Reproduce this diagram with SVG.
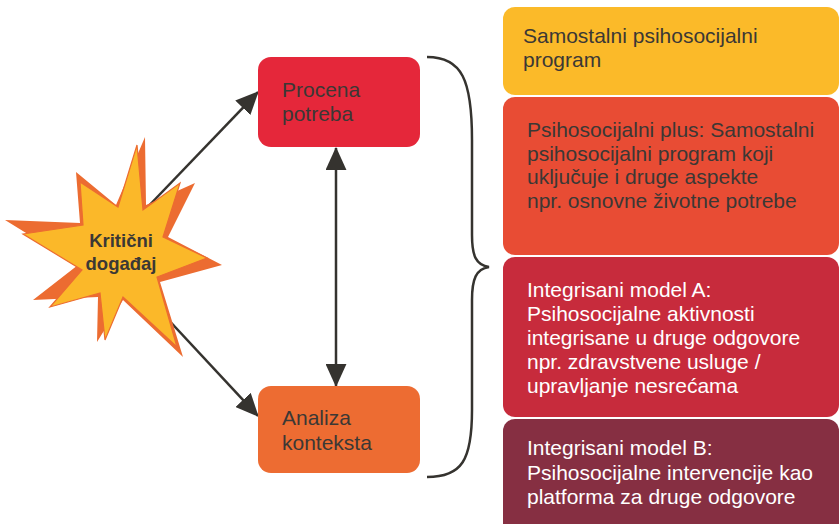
<svg xmlns="http://www.w3.org/2000/svg" width="840" height="524" viewBox="0 0 840 524">
<defs>
<style>
.t{font-family:"Liberation Sans",Arial,sans-serif;font-size:21px;fill:#3b3835}
.w{font-family:"Liberation Sans",Arial,sans-serif;font-size:21px;fill:#ffffff}
.b{font-family:"Liberation Sans",Arial,sans-serif;font-size:18.5px;font-weight:bold;fill:#3b3835;text-anchor:middle}
.ln{stroke:#35332f;stroke-width:2.5;fill:none}
</style>
<marker id="ah" viewBox="0 0 22 20" refX="21" refY="10" markerWidth="23" markerHeight="21" markerUnits="userSpaceOnUse" orient="auto-start-reverse">
<path d="M0,0 L22,10 L0,20 Z" fill="#35332f"/>
</marker>
</defs>
<g id="connectors">
<line class="ln" x1="140" y1="215" x2="258" y2="92" marker-end="url(#ah)"/>
<line class="ln" x1="150" y1="300" x2="258" y2="416" marker-end="url(#ah)"/>
<line class="ln" x1="336" y1="148" x2="336" y2="386" marker-start="url(#ah)" marker-end="url(#ah)"/>
<path class="ln" d="M427,57 C462,57 472,80 472,140 L472,235 C472,256 476,265 489,267 C476,269 472,279 472,300 L472,410 C472,460 462,477 427,477"/>
</g>
<g id="star">
<polygon fill="#ec6c31" points="145,137 146,205 195,183 168,237 222,265 160,282 183,357 123,300 97,342 98,297 33,300 78,265 5,220 80,223 76,172 116,205"/>
<polygon fill="#fbb829" stroke="#ec6c31" stroke-width="1.2" points="137,145 143,210 180,183 163,237 207,258 157,277 177,347 123,297 105,340 100,293 50,307 82,270 23,234 83,225 80,182 118,207"/>
<text class="b" x="121" y="247">Kritični</text>
<text class="b" x="121" y="270">događaj</text>
</g>
<g id="procena">
<rect x="258" y="57" width="162" height="90" rx="13" fill="#e5273a"/>
<text class="t" x="282" y="97">Procena</text>
<text class="t" x="282" y="121">potreba</text>
</g>
<g id="analiza">
<rect x="258" y="386" width="162" height="87" rx="13" fill="#ed6c32"/>
<text class="t" x="282" y="425">Analiza</text>
<text class="t" x="282" y="450">konteksta</text>
</g>
<g id="samostalni">
<rect x="503" y="7" width="336" height="88" rx="12" fill="#fbba29"/>
<text class="t" x="523" y="43">Samostalni psihosocijalni</text>
<text class="t" x="523" y="67">program</text>
</g>
<g id="plus">
<rect x="503" y="97" width="336" height="158" rx="12" fill="#e84c34"/>
<text class="t" x="527" y="137">Psihosocijalni plus: Samostalni</text>
<text class="t" x="527" y="161">psihosocijalni program koji</text>
<text class="t" x="527" y="184">uključuje i druge aspekte</text>
<text class="t" x="527" y="208">npr. osnovne životne potrebe</text>
</g>
<g id="modelA">
<rect x="503" y="257" width="336" height="160" rx="12" fill="#c72b3c"/>
<text class="w" x="527" y="297">Integrisani model A:</text>
<text class="w" x="527" y="321">Psihosocijalne aktivnosti</text>
<text class="w" x="527" y="345">integrisane u druge odgovore</text>
<text class="w" x="527" y="369">npr. zdravstvene usluge /</text>
<text class="w" x="527" y="393">upravljanje nesrećama</text>
</g>
<g id="modelB">
<rect x="503" y="419" width="336" height="120" rx="12" fill="#862f42"/>
<text class="w" x="527" y="455">Integrisani model B:</text>
<text class="w" x="527" y="480">Psihosocijalne intervencije kao</text>
<text class="w" x="527" y="504">platforma za druge odgovore</text>
</g>
</svg>
